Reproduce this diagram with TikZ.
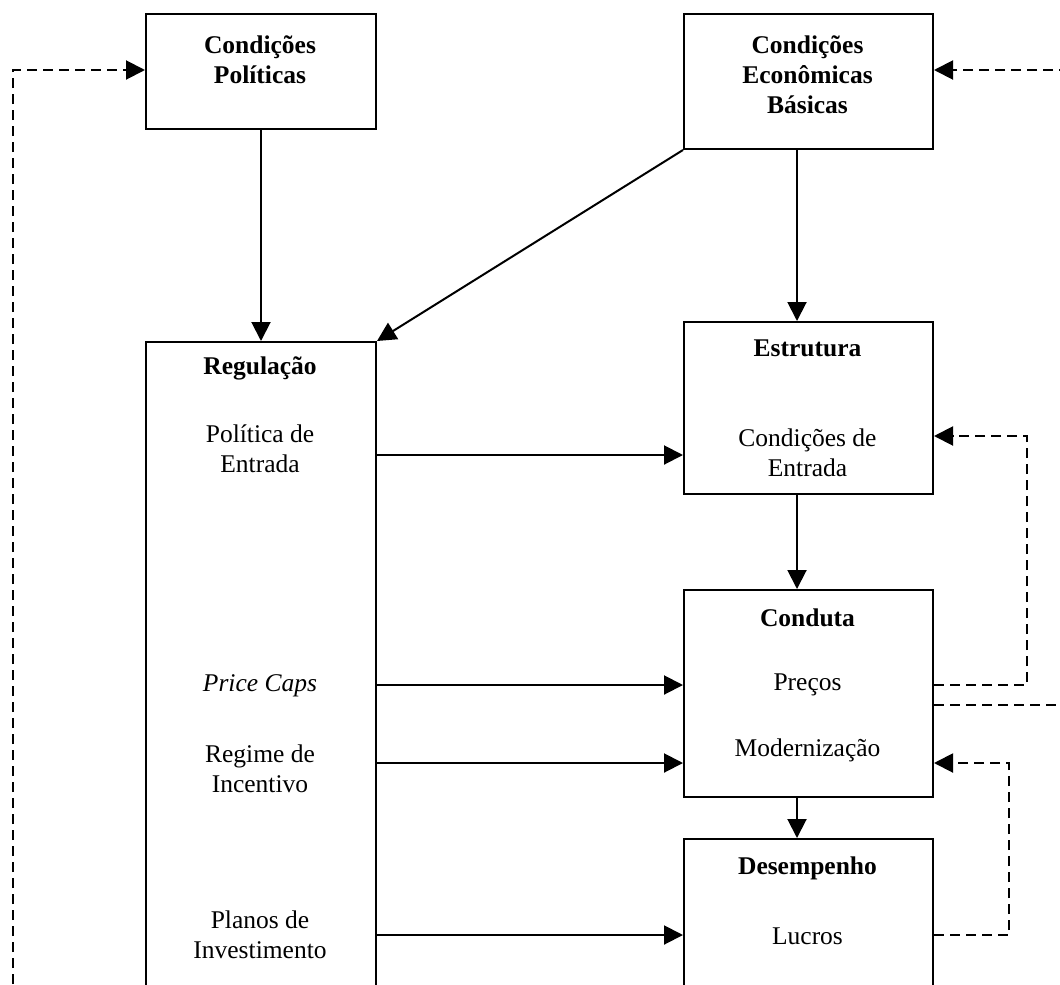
\documentclass[tikz,border=0pt]{standalone}
\usepackage{fontspec}
\setmainfont{Liberation Serif}
\usetikzlibrary{arrows.meta}
\begin{document}
\begin{tikzpicture}[x=1pt,y=-1pt,
  box/.style={draw,line width=2pt,inner sep=0pt},
  txt/.style={inner sep=0pt,align=center,font=\fontsize{25.5}{30}\selectfont},
  bold/.style={txt,font=\fontsize{25.5}{30}\selectfont\bfseries},
  arr/.style={line width=2pt,-{Triangle[length=19pt,width=19pt]}},
  darr/.style={line width=2pt,dash pattern=on 10pt off 6pt,-{Triangle[length=19pt,width=19pt]}}]
\useasboundingbox (0,0) rectangle (1060,985);
\clip (0,0) rectangle (1060,985);
% boxes
\node[box,minimum width=230pt,minimum height=115pt,anchor=north west] (cp) at (145,13) {};
\node[box,minimum width=249pt,minimum height=135pt,anchor=north west] (ceb) at (683,13) {};
\node[box,minimum width=230pt,minimum height=680pt,anchor=north west] (reg) at (145,341) {};
\node[box,minimum width=249pt,minimum height=172pt,anchor=north west] (est) at (683,321) {};
\node[box,minimum width=249pt,minimum height=207pt,anchor=north west] (con) at (683,589) {};
\node[box,minimum width=249pt,minimum height=180pt,anchor=north west] (des) at (683,838) {};
% texts
\node[bold] (tcp) at (260,60) {Condições\\Políticas};
\node[bold] (tceb) at (807.5,75) {Condições\\Econômicas\\Básicas};
\node[bold] (treg) at (260,368) {Regulação};
\node[txt] (tpe) at (260,449) {Política de\\Entrada};
\node[txt] (tpc) at (260,686) {\itshape Price Caps};
\node[txt] (tri) at (260,769) {Regime de\\Incentivo};
\node[txt] (tpi) at (260,935) {Planos de\\Investimento};
\node[bold] (test) at (807.5,348) {Estrutura};
\node[txt] (tce) at (807.5,453) {Condições de\\Entrada};
\node[bold] (tcon) at (807.5,618) {Conduta};
\node[txt] (tpr) at (807.5,685) {Preços};
\node[txt] (tmo) at (807.5,750) {Modernização};
\node[bold] (tdes) at (807.5,868) {Desempenho};
\node[txt] (tlu) at (807.5,936) {Lucros};
% connection points
\coordinate (y455) at (0,455);
\coordinate (y685) at (0,685);
\coordinate (y705) at (0,705);
\coordinate (y763) at (0,763);
\coordinate (y935) at (0,935);
\coordinate (y436) at (0,436);
\coordinate (y70) at (0,70);
\coordinate (xr1) at (1027,0);
\coordinate (xr2) at (1009,0);
\coordinate (xr3) at (1068,0);
\coordinate (xl) at (13,0);
\coordinate (xc) at (797,0);
\coordinate (xb) at (1000,1000);
% solid arrows
\draw[arr] (cp.south) -- (reg.north);
\draw[arr] (xc |- ceb.south) -- (xc |- est.north);
\draw[arr] (ceb.south west) -- (reg.north east);
\draw[arr] (xc |- est.south) -- (xc |- con.north);
\draw[arr] (xc |- con.south) -- (xc |- des.north);
\draw[arr] (y455 -| reg.east) -- (y455 -| est.west);
\draw[arr] (y685 -| reg.east) -- (y685 -| con.west);
\draw[arr] (y763 -| reg.east) -- (y763 -| con.west);
\draw[arr] (y935 -| reg.east) -- (y935 -| des.west);
% dashed feedback
\draw[darr] (y685 -| con.east) -- (y685 -| xr1) -- (y436 -| xr1) -- (y436 -| est.east);
\draw[darr] (y705 -| con.east) -- (y705 -| xr3) -- (y70 -| xr3) -- (y70 -| ceb.east);
\draw[darr] (y935 -| des.east) -- (y935 -| xr2) -- (y763 -| xr2) -- (y763 -| con.east);
\draw[darr] (xl |- xb) -- (xl |- y70) -- (y70 -| cp.west);
\end{tikzpicture}
\end{document}
